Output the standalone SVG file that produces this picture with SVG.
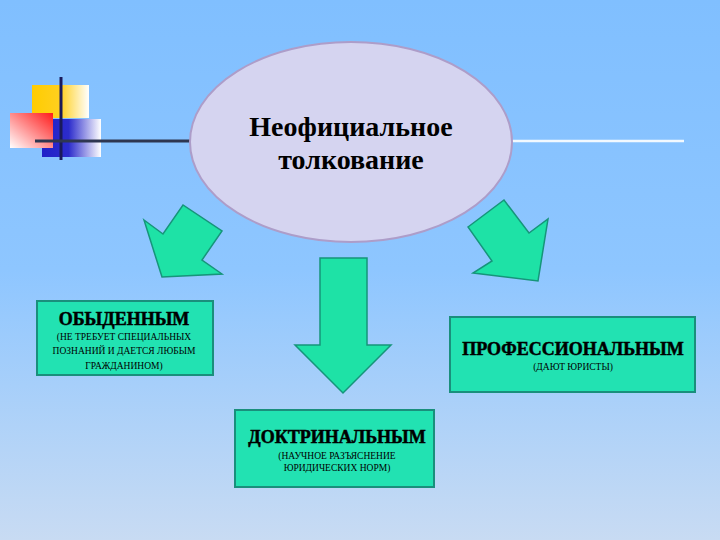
<svg xmlns="http://www.w3.org/2000/svg" width="720" height="540" viewBox="0 0 720 540">
<defs>
<linearGradient id="bg" x1="0" y1="0" x2="0" y2="1">
<stop offset="0" stop-color="#80bfff"/>
<stop offset="0.5" stop-color="#8ec6ff"/>
<stop offset="1" stop-color="#c8dbf3"/>
</linearGradient>
<linearGradient id="gy" x1="0" y1="0" x2="1" y2="0">
<stop offset="0" stop-color="#ffcc00"/>
<stop offset="0.5" stop-color="#ffd020"/>
<stop offset="1" stop-color="#ffffff"/>
</linearGradient>
<linearGradient id="gr" x1="1" y1="0" x2="0" y2="1">
<stop offset="0" stop-color="#ff1a1a"/>
<stop offset="1" stop-color="#ffffff"/>
</linearGradient>
<linearGradient id="gb" x1="0" y1="0" x2="1" y2="0">
<stop offset="0" stop-color="#2020c8"/>
<stop offset="0.45" stop-color="#2c2ccc"/>
<stop offset="1" stop-color="#ffffff"/>
</linearGradient>
<style>
.arrow{fill:#1ee2a6;stroke:#16957a;stroke-width:1.5;stroke-linejoin:miter}
.box{fill:#22e2b2;stroke:#1a8f7c;stroke-width:2}
.title{font-family:"Liberation Serif","Times New Roman",serif;font-weight:bold;font-size:18px;fill:#000;stroke:#000;stroke-width:0.5;text-anchor:middle}
.sub{font-family:"Liberation Serif","Times New Roman",serif;font-size:9.5px;fill:#000;text-anchor:middle}
.main{font-family:"Liberation Serif","Times New Roman",serif;font-weight:bold;font-size:28px;fill:#000;text-anchor:middle}
</style>
</defs>
<rect width="720" height="540" fill="url(#bg)"/>
<g id="decoration">
<rect x="32" y="85" width="57" height="33" fill="url(#gy)"/>
<rect x="42" y="119" width="59" height="38" fill="url(#gb)"/>
<rect x="10" y="113" width="43" height="35" fill="url(#gr)"/>
<line x1="61" y1="77" x2="61" y2="160" stroke="#1a1a5a" stroke-width="3"/>
<line x1="35" y1="141" x2="200" y2="141" stroke="#2e3650" stroke-width="3"/>
<line x1="500" y1="141" x2="684" y2="141" stroke="#f2f9ff" stroke-width="2.5"/>
</g>
<g id="main">
<ellipse cx="351" cy="142" rx="161" ry="100" fill="#d5d4f0" stroke="#ad9dc9" stroke-width="2"/>
<text class="main" x="351" y="136">Неофициальное</text>
<text class="main" x="351" y="169">толкование</text>
</g>
<g id="connectors">
<polygon class="arrow" points="144,220 163,234 183,205 222,231 202,260 222,274 162,277"/>
<polygon class="arrow" points="320,258 367,258 367,345 391,345 343,393 295,345 320,345"/>
<polygon class="arrow" points="468,227 504,200 529,233 548,219 538,281 473,273 492,261"/>
</g>
<g id="obydennym">
<rect class="box" x="37" y="301" width="176" height="74"/>
<text class="title" x="124" y="325">ОБЫДЕННЫМ</text>
<text class="sub" x="124" y="340">(НЕ ТРЕБУЕТ СПЕЦИАЛЬНЫХ</text>
<text class="sub" x="124" y="354">ПОЗНАНИЙ И ДАЕТСЯ ЛЮБЫМ</text>
<text class="sub" x="124" y="369">ГРАЖДАНИНОМ)</text>
</g>
<g id="doktrinalnym">
<rect class="box" x="235" y="410" width="199" height="77"/>
<text class="title" x="337" y="443">ДОКТРИНАЛЬНЫМ</text>
<text class="sub" x="337" y="459">(НАУЧНОЕ РАЗЪЯСНЕНИЕ</text>
<text class="sub" x="337" y="471">ЮРИДИЧЕСКИХ НОРМ)</text>
</g>
<g id="professionalnym">
<rect class="box" x="450" y="317" width="245" height="75"/>
<text class="title" x="573" y="355">ПРОФЕССИОНАЛЬНЫМ</text>
<text class="sub" x="573" y="370">(ДАЮТ ЮРИСТЫ)</text>
</g>
</svg>
